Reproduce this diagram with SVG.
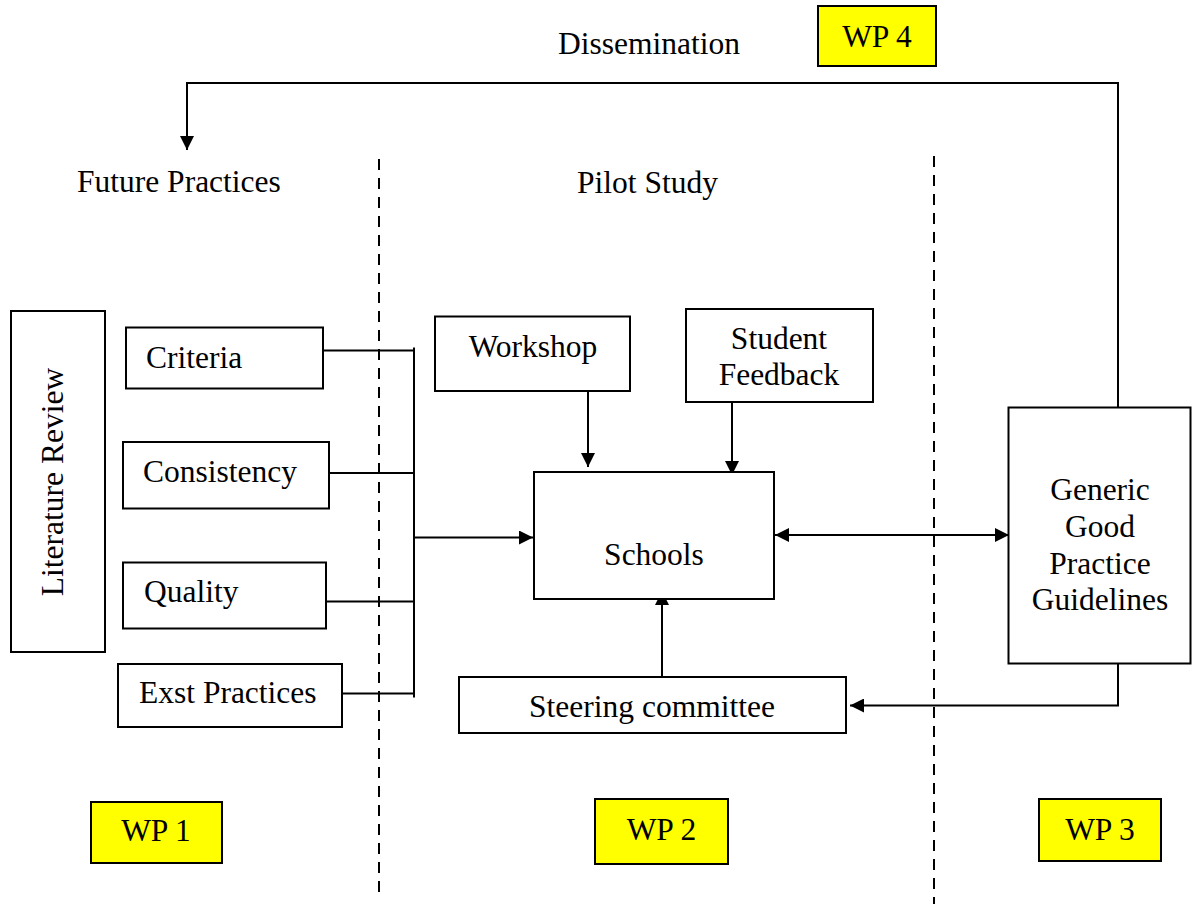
<svg xmlns="http://www.w3.org/2000/svg" width="1192" height="904" viewBox="0 0 1192 904">
<style>
.box{fill:#fff;stroke:#000;stroke-width:2}
.wp{fill:#ffff00;stroke:#000;stroke-width:2}
.t{font-family:"Liberation Serif","Times New Roman",serif;font-size:31.5px;fill:#000}
.m{text-anchor:middle}
.ln{fill:none;stroke:#000;stroke-width:2}
.dash{fill:none;stroke:#000;stroke-width:2;stroke-dasharray:11 8}
</style>
<defs>
<marker id="ah" viewBox="0 0 14 14" refX="14" refY="7" markerWidth="14" markerHeight="14" markerUnits="userSpaceOnUse" orient="auto-start-reverse">
<path d="M0,0 L14,7 L0,14 z" fill="#000"/>
</marker>
</defs>
<rect width="1192" height="904" fill="#fff"/>

<g id="dividers">
<line class="dash" x1="379" y1="159" x2="379" y2="900"/>
<line class="dash" x1="934" y1="156" x2="934" y2="904"/>
</g>

<g id="labels">
<text class="t" x="558" y="54">Dissemination</text>
<text class="t" x="77" y="192">Future Practices</text>
<text class="t" x="577" y="193">Pilot Study</text>
</g>

<g id="connectors">
<polyline class="ln" points="1118,407 1118,83 187,83 187,150" marker-end="url(#ah)"/>
<line class="ln" x1="323" y1="350.5" x2="414" y2="350.5"/>
<line class="ln" x1="329" y1="473" x2="414" y2="473"/>
<line class="ln" x1="326" y1="601.5" x2="414" y2="601.5"/>
<line class="ln" x1="342" y1="693.5" x2="414" y2="693.5"/>
<line class="ln" x1="414" y1="347.5" x2="414" y2="697.5"/>
<line class="ln" x1="414" y1="537.5" x2="533" y2="537.5" marker-end="url(#ah)"/>
<line class="ln" x1="588" y1="391" x2="588" y2="467" marker-end="url(#ah)"/>
<line class="ln" x1="732" y1="398" x2="732" y2="475" marker-end="url(#ah)"/>
<line class="ln" x1="775" y1="535" x2="1009" y2="535" marker-start="url(#ah)" marker-end="url(#ah)"/>
<line class="ln" x1="662" y1="677" x2="662" y2="591" marker-end="url(#ah)"/>
<polyline class="ln" points="1118,663 1118,705.5 850,705.5" marker-end="url(#ah)"/>
</g>

<g id="literature-review">
<rect class="box" x="11" y="311" width="94" height="341"/>
<text class="t m" transform="translate(63,482) rotate(-90)">Literature Review</text>
</g>
<g id="criteria">
<rect class="box" x="126" y="327.5" width="197" height="61"/>
<text class="t" x="146" y="368">Criteria</text>
</g>
<g id="consistency">
<rect class="box" x="123" y="442" width="206" height="66.5"/>
<text class="t" x="143" y="482">Consistency</text>
</g>
<g id="quality">
<rect class="box" x="123" y="562.5" width="203" height="66"/>
<text class="t" x="144" y="601.5">Quality</text>
</g>
<g id="exst-practices">
<rect class="box" x="118" y="664" width="224" height="63"/>
<text class="t" x="139" y="703">Exst Practices</text>
</g>
<g id="workshop">
<rect class="box" x="435" y="316.5" width="195" height="74.5"/>
<text class="t m" x="533" y="357">Workshop</text>
</g>
<g id="student-feedback">
<rect class="box" x="686" y="309" width="187" height="93"/>
<text class="t m" x="779" y="349">Student</text>
<text class="t m" x="779" y="385">Feedback</text>
</g>
<g id="schools">
<rect class="box" x="534" y="472" width="240" height="127"/>
<text class="t m" x="654" y="565">Schools</text>
</g>
<g id="steering-committee">
<rect class="box" x="459" y="677" width="387" height="56"/>
<text class="t m" x="652" y="716.5">Steering committee</text>
</g>
<g id="guidelines">
<rect class="box" x="1008.5" y="407.5" width="182" height="256"/>
<text class="t m" x="1100" y="499.5">Generic</text>
<text class="t m" x="1100" y="536.5">Good</text>
<text class="t m" x="1100" y="573.5">Practice</text>
<text class="t m" x="1100" y="610">Guidelines</text>
</g>
<g id="wp1">
<rect class="wp" x="91" y="802" width="131" height="61"/>
<text class="t m" x="156" y="841">WP 1</text>
</g>
<g id="wp2">
<rect class="wp" x="595" y="799" width="133" height="65"/>
<text class="t m" x="661.5" y="840">WP 2</text>
</g>
<g id="wp3">
<rect class="wp" x="1039" y="799" width="122" height="62"/>
<text class="t m" x="1100" y="840">WP 3</text>
</g>
<g id="wp4">
<rect class="wp" x="818" y="6" width="118" height="60"/>
<text class="t m" x="877" y="47">WP 4</text>
</g>
</svg>
